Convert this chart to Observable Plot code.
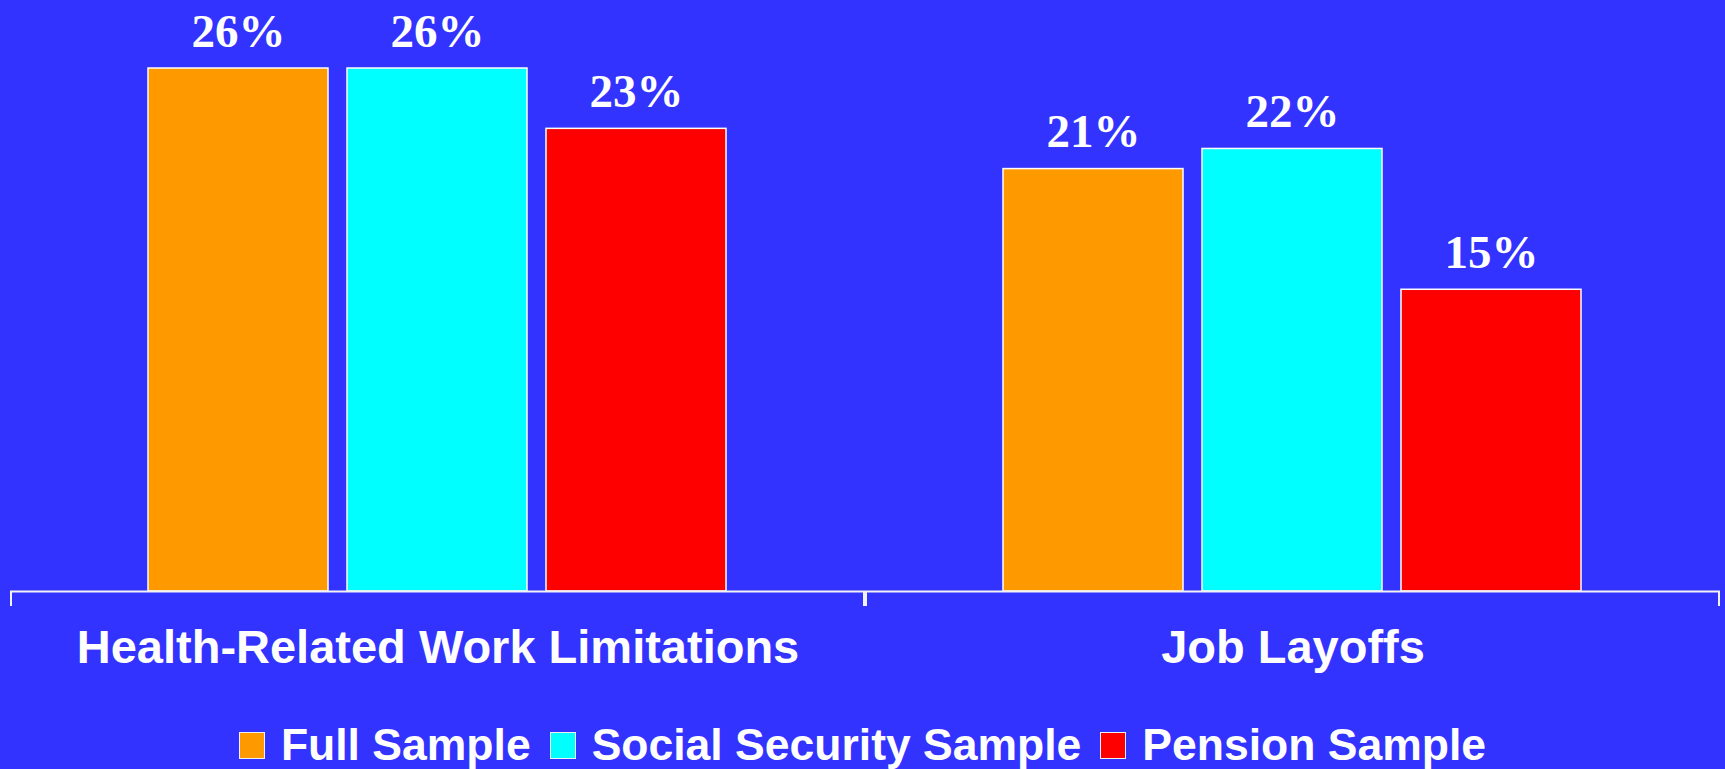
<!DOCTYPE html>
<html>
<head>
<meta charset="utf-8">
<script src="https://cdn.jsdelivr.net/npm/d3@7"></script>
<script src="https://cdn.jsdelivr.net/npm/@observablehq/plot@0.6"></script>
<style>
  html, body { margin: 0; padding: 0; background: #3333FF; width: 1725px; height: 769px; overflow: hidden; }
  #chart svg { display: block; }
  #legend {
    margin-top: 23px; height: 44px; display: flex; justify-content: center; align-items: center;
    font-family: "Liberation Sans", Arial, sans-serif; font-weight: bold; font-size: 44.5px; color: white;
    line-height: 44px; padding-left: 0px;
  }
  .item { display: flex; align-items: center; margin-right: 19px; }
  .item:last-child { margin-right: 0; }
  .sw { width: 24px; height: 25px; border: 1px solid #f0f0f0; margin-right: 16px; }
</style>
</head>
<body>
<div id="chart"></div>
<div id="legend"></div>
<script>
const groups = ["Health-Related Work Limitations", "Job Layoffs"];
const series = ["Full Sample", "Social Security Sample", "Pension Sample"];
const fullSample = [26, 21];
const socialSecuritySample = [26, 22];
const pensionSample = [23, 15];
const colors = ["#FF9900", "#00FFFF", "#FF0000"];

const seriesValues = [fullSample, socialSecuritySample, pensionSample];
const data = [];
groups.forEach((g, gi) => series.forEach((s, si) => data.push({group: g, series: s, value: seriesValues[si][gi]})));
const leftTicks = groups.map(g => ({group: g, series: series[0]}));
const rightTicks = groups.map(g => ({group: g, series: series[series.length - 1]}));

const W = 1725, H = 700;
const mL = 10, mR = 5;
const padInner = 0.095, padOuter = 0.685;
const facetW = (W - mL - mR) / groups.length;
const step = facetW / (series.length - padInner + 2 * padOuter);
const edge = padOuter * step + step * (1 - padInner) / 2;

const chart = Plot.plot({
  width: W,
  height: H,
  marginLeft: mL,
  marginRight: mR,
  marginTop: 68,
  marginBottom: 109,
  style: {background: "#3333FF", color: "white", fontFamily: "'Liberation Sans', Arial, sans-serif", fontSize: "47px", fontWeight: "bold"},
  fx: {domain: groups, padding: 0, label: null, axis: "bottom", tickSize: 0, tickPadding: 38},
  x: {domain: series, paddingInner: padInner, paddingOuter: padOuter, axis: null},
  y: {domain: [0, 26], axis: null},
  color: {domain: series, range: colors},
  marks: [
    Plot.barY(data, {fx: "group", x: "series", y: "value", fill: "series", stroke: "white", strokeWidth: 1.5}),
    Plot.ruleY([0], {stroke: "#f2f2f2", strokeWidth: 2}),
    Plot.ruleX(leftTicks, {fx: "group", x: "series", y1: 0, y2: 0, insetBottom: -15, dx: -edge, stroke: "#f2f2f2", strokeWidth: 2}),
    Plot.ruleX(rightTicks, {fx: "group", x: "series", y1: 0, y2: 0, insetBottom: -15, dx: edge, stroke: "#f2f2f2", strokeWidth: 2}),
    Plot.text(data, {fx: "group", x: "series", y: "value", text: d => d.value + "%", lineAnchor: "bottom", dy: -22,
      fill: "white", fontFamily: "'Liberation Serif', 'Times New Roman', serif", fontWeight: "bold", fontSize: 47})
  ]
});
document.getElementById("chart").appendChild(chart);

const legend = document.getElementById("legend");
series.forEach((s, i) => {
  const item = document.createElement("div");
  item.className = "item";
  const sw = document.createElement("div");
  sw.className = "sw";
  sw.style.background = colors[i];
  const t = document.createElement("span");
  t.textContent = s;
  item.appendChild(sw);
  item.appendChild(t);
  legend.appendChild(item);
});
</script>
</body>
</html>
